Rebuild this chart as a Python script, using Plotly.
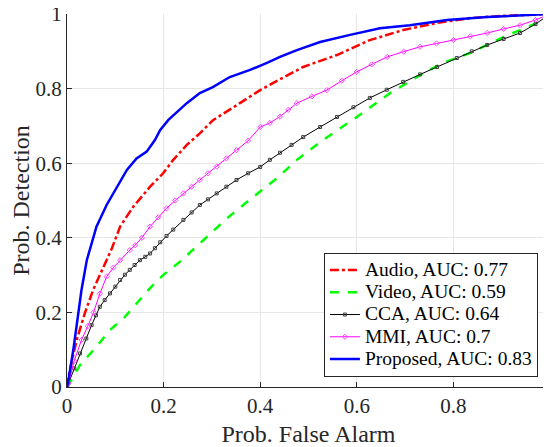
import plotly.graph_objects as go

# ROC curves
audio_x = [0, 0.003, 0.02, 0.037, 0.054, 0.075, 0.093, 0.11, 0.137, 0.172, 0.199, 0.22, 0.248,
           0.275, 0.303, 0.358, 0.40, 0.441, 0.489, 0.559, 0.627, 0.696, 0.766, 0.834, 0.903, 1.0]
audio_y = [0, 0.028, 0.126, 0.198, 0.26, 0.322, 0.372, 0.43, 0.483, 0.537, 0.573, 0.609, 0.649,
           0.68, 0.716, 0.761, 0.796, 0.825, 0.858, 0.89, 0.93, 0.957, 0.976, 0.989, 0.995, 1.0]

video_x = [0, 0.003, 0.027, 0.061, 0.089, 0.117, 0.144, 0.172, 0.199, 0.234, 0.266, 0.331,
           0.385, 0.435, 0.476, 0.53, 0.60, 0.669, 0.731, 0.778, 0.834, 0.903, 0.973, 1.0]
video_y = [0, 0.005, 0.059, 0.108, 0.153, 0.184, 0.224, 0.265, 0.30, 0.336, 0.374, 0.452,
           0.509, 0.56, 0.609, 0.662, 0.724, 0.788, 0.836, 0.869, 0.895, 0.938, 0.976, 1.0]

cca_x = [0, 0.003, 0.015, 0.027, 0.04, 0.051, 0.06, 0.068, 0.078, 0.089, 0.1, 0.11, 0.12, 0.13,
         0.14, 0.151, 0.162, 0.172, 0.182, 0.193, 0.206, 0.22, 0.241, 0.258, 0.275, 0.292, 0.31,
         0.33, 0.351, 0.375, 0.40, 0.42, 0.441, 0.465, 0.489, 0.524, 0.559, 0.593, 0.627, 0.662,
         0.696, 0.731, 0.766, 0.807, 0.838, 0.87, 0.904, 0.938, 0.97, 1.0]
cca_y = [0, 0.01, 0.05, 0.09, 0.13, 0.166, 0.192, 0.215, 0.233, 0.251, 0.269, 0.287, 0.301, 0.314,
         0.327, 0.34, 0.349, 0.358, 0.372, 0.388, 0.405, 0.422, 0.448, 0.468, 0.488, 0.503, 0.519,
         0.537, 0.555, 0.573, 0.59, 0.609, 0.628, 0.649, 0.67, 0.697, 0.724, 0.75, 0.775, 0.797,
         0.818, 0.838, 0.858, 0.882, 0.9, 0.917, 0.933, 0.949, 0.973, 1.0]

mmi_x = [0, 0.003, 0.015, 0.03, 0.043, 0.055, 0.068, 0.082, 0.096, 0.11, 0.13, 0.141, 0.155,
         0.172, 0.189, 0.206, 0.224, 0.241, 0.258, 0.275, 0.292, 0.31, 0.33, 0.351, 0.375, 0.40,
         0.42, 0.441, 0.458, 0.476, 0.507, 0.538, 0.569, 0.60, 0.631, 0.663, 0.697, 0.731, 0.765,
         0.80, 0.835, 0.87, 0.904, 0.938, 0.97, 1.0]
mmi_y = [0, 0.01, 0.07, 0.126, 0.163, 0.2, 0.25, 0.296, 0.32, 0.34, 0.367, 0.38, 0.40,
         0.43, 0.455, 0.479, 0.50, 0.519, 0.537, 0.555, 0.573, 0.591, 0.613, 0.635, 0.66, 0.697,
         0.708, 0.725, 0.743, 0.761, 0.779, 0.796, 0.821, 0.845, 0.865, 0.885, 0.899, 0.912, 0.921,
         0.93, 0.94, 0.949, 0.96, 0.97, 0.984, 1.0]

prop_x = [0, 0.003, 0.013, 0.023, 0.03, 0.041, 0.048, 0.061, 0.082, 0.103, 0.124, 0.144, 0.165,
          0.182, 0.193, 0.21, 0.248, 0.275, 0.302, 0.337, 0.379, 0.414, 0.441, 0.476, 0.524,
          0.586, 0.648, 0.71, 0.787, 0.87, 1.0]
prop_y = [0, 0.019, 0.099, 0.189, 0.26, 0.34, 0.372, 0.43, 0.488, 0.537, 0.582, 0.613, 0.631,
          0.662, 0.689, 0.716, 0.761, 0.788, 0.804, 0.831, 0.85, 0.869, 0.885, 0.903, 0.925,
          0.944, 0.962, 0.97, 0.984, 0.992, 1.0]

names = ["Audio, AUC: 0.77", "Video, AUC: 0.59", "CCA, AUC: 0.64", "MMI, AUC: 0.7",
         "Proposed, AUC: 0.83"]

# legend rows are spaced from legend font size; the text itself is drawn larger
def lg(name):
    return '<span style="font-size:19.5px">' + name + '</span>'

fig = go.Figure()
fig.add_trace(go.Scatter(x=audio_x, y=audio_y, mode="lines", name=lg(names[0]),
                         line=dict(color="#ff0000", width=2.5, dash="dashdot")))
fig.add_trace(go.Scatter(x=video_x, y=video_y, mode="lines", name=lg(names[1]),
                         line=dict(color="#00ff00", width=2.5, dash="dash")))
fig.add_trace(go.Scatter(x=cca_x, y=cca_y, mode="lines+markers", name=lg(names[2]),
                         line=dict(color="#000000", width=1),
                         marker=dict(symbol="square-open", size=3, color="#404040")))
fig.add_trace(go.Scatter(x=mmi_x, y=mmi_y, mode="lines+markers", name=lg(names[3]),
                         line=dict(color="#ff00ff", width=1),
                         marker=dict(symbol="diamond-open", size=4, color="#ff44ff")))
fig.add_trace(go.Scatter(x=prop_x, y=prop_y, mode="lines", name=lg(names[4]),
                         line=dict(color="#0000ff", width=2.5)))

axis_common = dict(range=[0, 1], dtick=0.2, showgrid=True, gridcolor="#e6e6e6", gridwidth=1,
                   zeroline=False, showline=True, linecolor="#262626", linewidth=1,
                   ticks="inside", ticklen=5, tickcolor="#262626", automargin=False,
                   ticklabeloverflow="allow",
                   tickfont=dict(family="Liberation Serif", size=21, color="#262626"))

fig.update_xaxes(title=dict(text="Prob. False Alarm", standoff=8,
                            font=dict(family="Liberation Serif", size=24, color="#262626")),
                 **axis_common)
fig.update_yaxes(title=dict(text="Prob. Detection", standoff=6,
                            font=dict(family="Liberation Serif", size=24, color="#262626")),
                 **axis_common)

# page body has an 8px margin, so the figure is sized to end at the window edge
fig.update_layout(width=543, height=439, plot_bgcolor="white", paper_bgcolor="white",
                  margin=dict(l=59, r=1, t=6, b=60),
                  legend=dict(x=0.975, y=0.027, xanchor="right", yanchor="bottom",
                              bgcolor="white", bordercolor="#262626", borderwidth=1,
                              font=dict(family="Liberation Serif", size=14.8, color="#000000"),
                              tracegroupgap=0, itemwidth=30))

fig.write_html("out.html")
